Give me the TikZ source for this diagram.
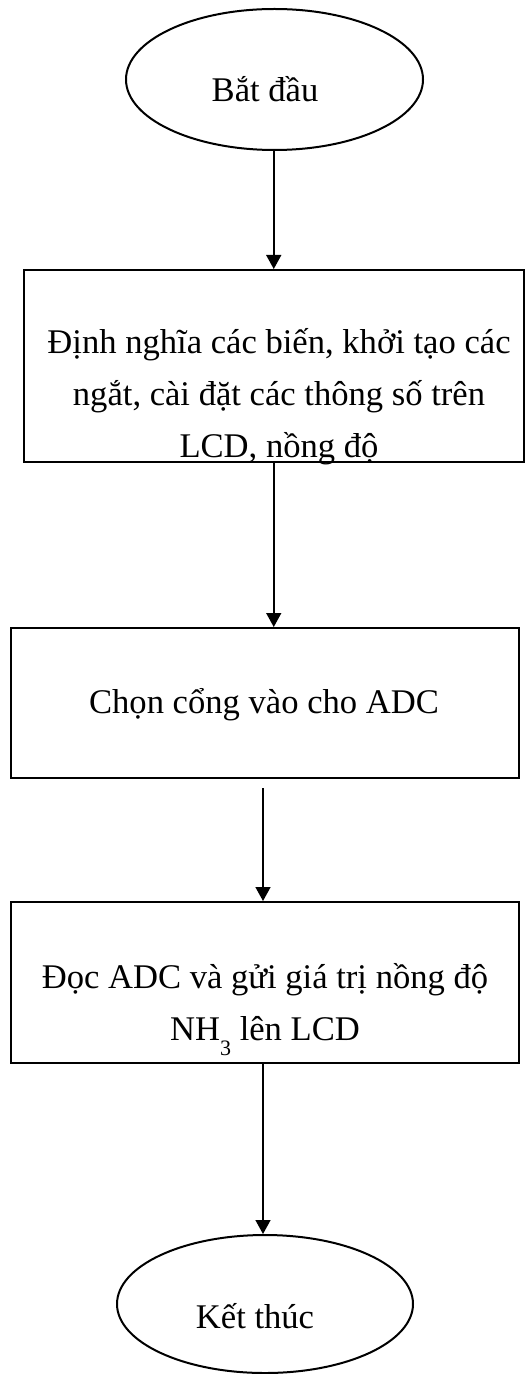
\documentclass[tikz,border=0pt]{standalone}
\usepackage{fontspec}
\setmainfont{Liberation Serif}
\usetikzlibrary{arrows.meta,shapes.geometric}

\begin{document}
\begin{tikzpicture}[x=0.5pt, y=-0.5pt, >={Triangle[width=7.5pt,length=7pt]},
	every node/.style={font=\fontsize{17.3}{26}\selectfont},
	term/.style={draw, line width=1pt, ellipse, inner sep=0pt},
	stepbox/.style={draw, line width=1pt, rectangle, inner sep=0pt},
	txt/.style={align=center, anchor=base, inner sep=0pt},
	flow/.style={->, line width=0.75pt}]
	\useasboundingbox (0,0) rectangle (524,1374);
	% shapes
	\node[term, minimum width=148.5pt, minimum height=70.5pt] (start) at (274.5,79.5) {};
	\node[stepbox, minimum width=249.75pt, minimum height=96pt] (init) at (273.75,366) {};
	\node[stepbox, minimum width=254pt, minimum height=75pt] (port) at (265,703) {};
	\node[stepbox, minimum width=254pt, minimum height=80.5pt] (readadc) at (265,982.5) {};
	\node[term, minimum width=148pt, minimum height=69pt] (stop) at (265,1304) {};
	% texts (base = last line)
	\node[txt] (startlbl) at (265,102) {Bắt đầu};
	\node[txt] (initlbl) at (279,457) {Định nghĩa các biến, khởi tạo các\\ngắt, cài đặt các thông số trên\\LCD, nồng độ};
	\node[txt] (portlbl) at (264,713) {Chọn cổng vào cho ADC};
	\node[txt] (readlbl) at (265,1040) {Đọc ADC và gửi giá trị nồng độ\\NH\raisebox{-7.5pt}{\fontsize{11}{11}\selectfont 3} lên LCD};
	\node[txt] (stoplbl) at (255,1328) {Kết thúc};
	% connectors
	\coordinate (gap) at ([xshift=-1pt,yshift=-4.5pt]port.south);
	\draw[flow] (start.south -| init.north) -- (init.north);
	\draw[flow] (init.south) -- (init.south |- port.north);
	\draw[flow] (gap) -- (gap |- readadc.north);
	\draw[flow] ([xshift=-1pt]readadc.south) -- ([xshift=-1pt]readadc.south |- stop.north);
\end{tikzpicture}
\end{document}
